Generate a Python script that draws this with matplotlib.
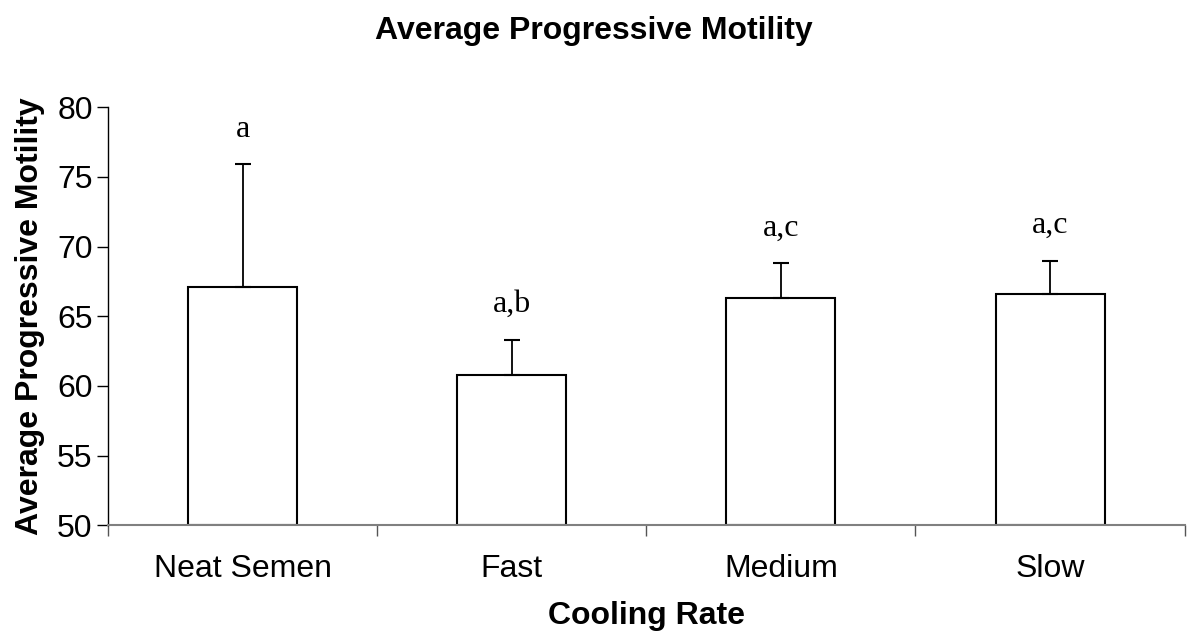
import numpy as np
import matplotlib
matplotlib.use("Agg")
import matplotlib.pyplot as plt

# data
categories = ["Neat Semen", "Fast", "Medium", "Slow"]
means = [67.1, 60.8, 66.3, 66.6]
errors = [8.8, 2.5, 2.5, 2.4]
letters = ["a", "a,b", "a,c", "a,c"]

plt.rcParams['font.family'] = ['Liberation Sans', 'DejaVu Sans']

fig = plt.figure(figsize=(11.87, 6.35), dpi=100)
ax = fig.add_axes([0.091, 0.173, 0.907, 0.658])

x = np.arange(len(categories))
ax.bar(x, [m - 50 for m in means], bottom=50, width=0.405,
       color='white', edgecolor='black', linewidth=1.5, zorder=2)
ax.errorbar(x, means, yerr=[np.zeros(len(errors)), errors], fmt='none',
            ecolor='black', elinewidth=1.3, capsize=6, capthick=1.5, zorder=3)

# significance letters above the error bars
for xi, m, e, lab in zip(x, means, errors, letters):
    ax.annotate(lab, (xi, m + e), xytext=(0, 15), textcoords='offset points',
                ha='center', va='bottom', fontsize=23,
                family=['Liberation Serif', 'DejaVu Serif'])

ax.set_xlim(-0.5, len(categories) - 0.5)
ax.set_ylim(50, 80)
ax.set_yticks(np.arange(50, 81, 5))
ax.set_xticks(x)
ax.set_xticklabels(categories)
ax.set_xticks(np.arange(-0.5, len(categories), 1.0), minor=True)
ax.tick_params(axis='x', which='major', length=0, pad=21, labelsize=23)
ax.tick_params(axis='x', which='minor', length=8, width=1, color='#555555')
ax.tick_params(axis='y', length=8, width=1, labelsize=23, pad=3)

ax.spines['top'].set_visible(False)
ax.spines['right'].set_visible(False)
ax.spines['bottom'].set_color('#808080')
ax.spines['bottom'].set_linewidth(1.5)
ax.spines['left'].set_linewidth(1)

ax.set_xlabel('Cooling Rate', fontsize=23, fontweight='bold', labelpad=12)
ax.set_ylabel('Average Progressive Motility', fontsize=23, fontweight='bold', labelpad=9)
fig.suptitle('Average Progressive Motility', fontsize=23, fontweight='bold', y=0.975)

fig.savefig('out.png', dpi=100)
